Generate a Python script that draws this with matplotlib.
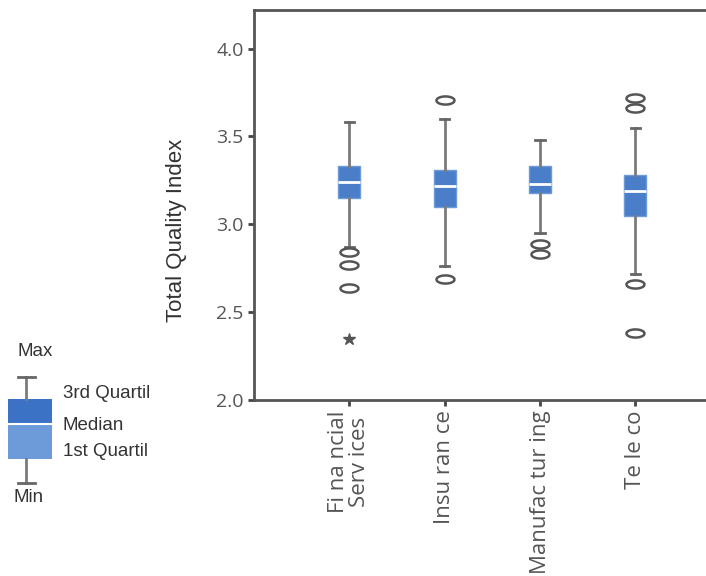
import matplotlib
matplotlib.use("Agg")
import matplotlib.pyplot as plt
import numpy as np
from matplotlib.path import Path
from matplotlib.patches import Rectangle

# datos
categorias = ["Fi na ncial\nServ ices", "Insu ran ce", "Manufac tur ing", "Te le co"]
bigote_sup = [3.58, 3.60, 3.48, 3.55]
cuartil_3 = [3.33, 3.31, 3.33, 3.28]
mediana = [3.24, 3.22, 3.23, 3.19]
cuartil_1 = [3.15, 3.10, 3.18, 3.05]
bigote_inf = [2.87, 2.76, 2.95, 2.72]
atipicos = [[2.84, 2.77, 2.64], [3.71, 2.69], [2.89, 2.83], [3.72, 3.66, 2.66, 2.38]]
extremos = [[2.35], [], [], []]

azul = "#4a7ec8"
gris = "#7b7b7b"

plt.rcParams['font.family'] = ['Open Sans', 'DejaVu Sans']
arial = ["Liberation Sans", "DejaVu Sans"]

fig = plt.figure(figsize=(7.06, 5.76), dpi=100)
ax = fig.add_axes([254 / 706, 1 - 400 / 576, 1 - 254 / 706, 390 / 576])

stats = []
for i in range(len(categorias)):
    stats.append({
        "med": mediana[i], "q1": cuartil_1[i], "q3": cuartil_3[i],
        "whislo": bigote_inf[i], "whishi": bigote_sup[i],
        "fliers": atipicos[i], "label": categorias[i],
    })

# marcador eliptico para los atipicos
t = np.linspace(0, 2 * np.pi, 60)
elipse = Path(np.column_stack([np.cos(t), 0.45 * np.sin(t)]))

pos = np.arange(1, len(categorias) + 1)
ax.bxp(stats, positions=pos, widths=0.23, patch_artist=True, capwidths=0.1,
       boxprops=dict(facecolor=azul, edgecolor="#6d9ad8", linewidth=1),
       medianprops=dict(color="white", linewidth=2),
       whiskerprops=dict(color=gris, linewidth=2),
       capprops=dict(color="#666666", linewidth=2),
       flierprops=dict(marker=elipse, markersize=13, markerfacecolor="none",
                       markeredgecolor="#555555", markeredgewidth=1.8))

for i, ext in enumerate(extremos):
    if ext:
        ax.plot([pos[i]] * len(ext), ext, linestyle="none", marker="*",
                markersize=9, color="#555555")

ax.set_xlim(0, 4.74)
ax.set_ylim(2.0, 4.22)
ax.set_yticks([2.0, 2.5, 3.0, 3.5, 4.0])
ax.set_yticklabels(["2.0", "2.5", "3.0", "3.5", "4.0"], fontsize=14, color="#555555")
ax.set_xticks(pos)
ax.set_xticklabels(categorias, rotation=90, fontsize=16, color="#555555",
                   va="top", ha="center", linespacing=1.0)
ax.set_ylabel("Total Quality Index", fontsize=16, color="#333333", family=arial)
ax.yaxis.set_label_coords(-0.148, 0.435)
ax.tick_params(axis="both", direction="out", length=4, width=2, color="#444444")
for s in ["left", "bottom", "top"]:
    ax.spines[s].set_color("#555555")
    ax.spines[s].set_linewidth(2)
ax.spines["right"].set_visible(False)

# leyenda explicativa a la izquierda
lg = fig.add_axes([0, 0, 1, 1], zorder=-1)
lg.set_xlim(0, 706)
lg.set_ylim(576, 0)
lg.axis("off")
lg.plot([26, 26], [377, 399], color=gris, lw=2)
lg.plot([26, 26], [459, 483], color=gris, lw=2)
lg.plot([18, 35], [377, 377], color="#666666", lw=2)
lg.plot([18, 35], [483, 483], color="#666666", lw=2)
lg.add_patch(Rectangle((8, 399), 44, 25, facecolor="#3c72c5", edgecolor="none"))
lg.add_patch(Rectangle((8, 424), 44, 35, facecolor="#6d9bd9", edgecolor="none"))
lg.plot([8, 52], [424, 424], color="white", lw=1.5)
fl = dict(fontsize=13.5, color="#333333", family=arial)
lg.text(35, 352, "Max", ha="center", va="center", **fl)
lg.text(63, 393, "3rd Quartil", ha="left", va="center", **fl)
lg.text(63, 426, "Median", ha="left", va="center", **fl)
lg.text(63, 452, "1st Quartil", ha="left", va="center", **fl)
lg.text(29, 497, "Min", ha="center", va="center", **fl)

fig.savefig("out.png", dpi=100)
